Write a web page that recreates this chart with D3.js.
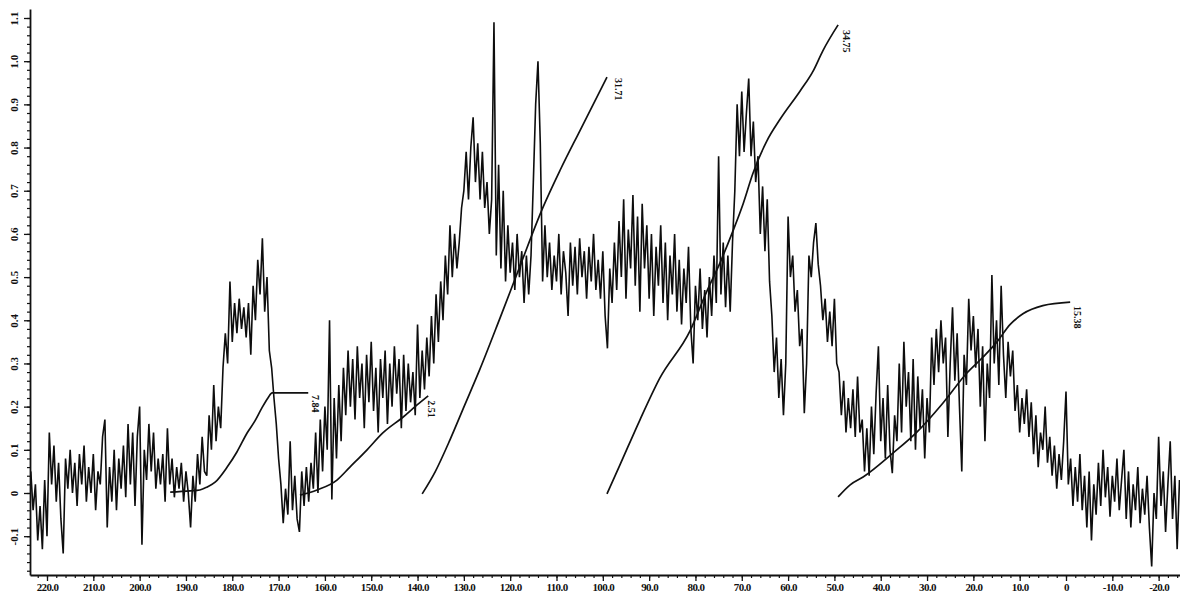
<!DOCTYPE html>
<html>
<head>
<meta charset="utf-8">
<script src="https://cdn.jsdelivr.net/npm/d3@7"></script>
<style>
  html, body { margin: 0; padding: 0; background: #fff; }
  svg { display: block; }
  .tick text, .lbl { font-family: "Liberation Serif", "Times New Roman", serif; font-weight: bold; fill: #111; }
</style>
</head>
<body>
<svg id="chart" width="1180" height="596"></svg>
<script>
// 13C spectrum sampled every 0.5 ppm, starting at 223.5 ppm and running upfield
const ppmStart = 223.5;
const ppmStep = 0.5;
const intensity = [
  // 223.5 – 214.0
  0.05, -0.04, 0.02, -0.11, -0.03, -0.13, 0.03, -0.10, 0.14, 0.02, 0.11, -0.02, 0.07, -0.06, -0.14, 0.08, 0.01, 0.10, 0.00, 0.07,
  // 213.5 – 204.0
  -0.03, 0.09, 0.02, 0.11, -0.02, 0.06, 0.00, 0.09, -0.04, 0.05, 0.02, 0.13, 0.17, -0.08, 0.06, -0.02, 0.10, -0.04, 0.08, 0.01,
  // 203.5 – 194.0
  0.11, -0.01, 0.16, 0.02, 0.14, -0.03, 0.13, 0.20, -0.12, 0.10, 0.03, 0.16, 0.05, 0.14, 0.01, 0.08, 0.02, 0.09, -0.02, 0.15,
  // 193.5 – 184.0
  0.02, 0.08, -0.01, 0.06, 0.01, 0.07, -0.02, 0.05, 0.00, -0.08, 0.04, -0.02, 0.09, 0.02, 0.13, 0.05, 0.04, 0.18, 0.10, 0.25,
  // 183.5 – 174.0
  0.12, 0.20, 0.15, 0.29, 0.37, 0.30, 0.49, 0.35, 0.44, 0.37, 0.45, 0.38, 0.43, 0.36, 0.44, 0.32, 0.48, 0.40, 0.54, 0.46,
  // 173.5 – 164.0
  0.59, 0.42, 0.50, 0.33, 0.29, 0.22, 0.16, 0.08, 0.02, -0.07, 0.01, -0.05, 0.12, -0.04, 0.04, -0.06, -0.09, 0.05, -0.03, 0.06,
  // 163.5 – 154.0
  -0.02, 0.07, 0.01, 0.14, 0.00, 0.17, 0.05, 0.20, 0.10, 0.40, -0.015, 0.22, 0.08, 0.25, 0.12, 0.29, 0.18, 0.33, 0.20, 0.31,
  // 153.5 – 144.0
  0.17, 0.34, 0.22, 0.30, 0.15, 0.32, 0.21, 0.35, 0.19, 0.29, 0.14, 0.31, 0.22, 0.33, 0.16, 0.30, 0.20, 0.34, 0.23, 0.31,
  // 143.5 – 134.0
  0.15, 0.32, 0.19, 0.30, 0.21, 0.28, 0.18, 0.39, 0.22, 0.33, 0.24, 0.36, 0.27, 0.41, 0.30, 0.46, 0.35, 0.49, 0.40, 0.55,
  // 133.5 – 124.0
  0.46, 0.62, 0.50, 0.60, 0.52, 0.58, 0.66, 0.70, 0.79, 0.68, 0.80, 0.87, 0.72, 0.81, 0.68, 0.79, 0.66, 0.72, 0.60, 0.68,
  // 123.5 – 114.0
  1.09, 0.55, 0.76, 0.52, 0.70, 0.49, 0.62, 0.51, 0.58, 0.47, 0.60, 0.50, 0.56, 0.44, 0.55, 0.46, 0.55, 0.72, 0.90, 1.00,
  // 113.5 – 104.0
  0.81, 0.49, 0.62, 0.50, 0.58, 0.47, 0.55, 0.49, 0.60, 0.46, 0.56, 0.51, 0.41, 0.58, 0.48, 0.57, 0.46, 0.59, 0.50, 0.56,
  // 103.5 – 94.0
  0.45, 0.57, 0.49, 0.60, 0.47, 0.54, 0.45, 0.56, 0.41, 0.335, 0.52, 0.44, 0.58, 0.47, 0.63, 0.50, 0.68, 0.45, 0.61, 0.52,
  // 93.5 – 84.0
  0.69, 0.48, 0.64, 0.42, 0.67, 0.52, 0.62, 0.45, 0.60, 0.41, 0.57, 0.48, 0.62, 0.44, 0.58, 0.40, 0.55, 0.46, 0.60, 0.42,
  // 83.5 – 74.0
  0.54, 0.39, 0.52, 0.44, 0.57, 0.38, 0.30, 0.48, 0.40, 0.52, 0.38, 0.47, 0.36, 0.50, 0.41, 0.55, 0.44, 0.78, 0.46, 0.58,
  // 73.5 – 64.0
  0.43, 0.55, 0.42, 0.58, 0.70, 0.90, 0.78, 0.93, 0.79, 0.88, 0.96, 0.78, 0.86, 0.72, 0.78, 0.60, 0.71, 0.56, 0.68, 0.49,
  // 63.5 – 54.0
  0.41, 0.28, 0.36, 0.22, 0.31, 0.18, 0.30, 0.64, 0.50, 0.55, 0.42, 0.47, 0.34, 0.38, 0.185, 0.30, 0.55, 0.50, 0.58, 0.625,
  // 53.5 – 44.0
  0.53, 0.48, 0.40, 0.45, 0.35, 0.42, 0.34, 0.45, 0.30, 0.28, 0.18, 0.26, 0.14, 0.22, 0.15, 0.24, 0.13, 0.27, 0.14, 0.17,
  // 43.5 – 34.0
  0.05, 0.15, 0.04, 0.20, 0.09, 0.23, 0.34, 0.12, 0.22, 0.08, 0.25, 0.10, 0.046, 0.18, 0.12, 0.30, 0.14, 0.35, 0.20, 0.28,
  // 33.5 – 24.0
  0.12, 0.31, 0.10, 0.27, 0.15, 0.24, 0.08, 0.22, 0.14, 0.36, 0.25, 0.38, 0.28, 0.40, 0.30, 0.36, 0.13, 0.30, 0.43, 0.26,
  // 23.5 – 14.0
  0.37, 0.20, 0.05, 0.32, 0.25, 0.45, 0.33, 0.41, 0.29, 0.38, 0.20, 0.34, 0.12, 0.30, 0.22, 0.505, 0.30, 0.40, 0.25, 0.48,
  // 13.5 – 4.0
  0.32, 0.22, 0.35, 0.27, 0.33, 0.19, 0.25, 0.14, 0.22, 0.16, 0.24, 0.13, 0.21, 0.09, 0.18, 0.06, 0.14, 0.10, 0.20, 0.07,
  // 3.5 – -6.0
  0.13, 0.04, 0.11, 0.01, 0.09, 0.03, 0.12, 0.235, 0.02, 0.08, -0.03, 0.06, -0.02, 0.09, -0.04, 0.04, -0.08, 0.05, -0.11, 0.02,
  // -6.5 – -16.0
  -0.05, 0.07, -0.03, 0.10, -0.01, 0.06, -0.055, 0.04, -0.02, 0.08, -0.04, 0.03, 0.10, -0.06, 0.05, -0.08, 0.02, -0.04, 0.06, -0.07,
  // -16.5 – -24.5
  0.01, -0.05, 0.04, -0.08, -0.17, 0.00, -0.06, 0.13, -0.03, 0.05, -0.09, 0.02, 0.12, -0.06, 0.04, -0.13, 0.03
];

// integral traces as [ppm, height] pairs
const integral1 = [[193.4, 0.002], [189.1, 0.005], [187.0, 0.007], [185.4, 0.014], [183.7, 0.025], [181.1, 0.060],
  [179.0, 0.095], [176.8, 0.139], [175.1, 0.167], [173.6, 0.197], [172.3, 0.220], [171.4, 0.232], [163.6, 0.232]];
const integral2 = [[165.4, -0.005], [161.7, 0.007], [157.4, 0.030], [154.6, 0.060], [150.9, 0.100], [147.5, 0.139],
  [143.1, 0.176], [140.1, 0.204], [137.7, 0.225]];
const integral3 = [[139.0, -0.002], [136.2, 0.049], [133.0, 0.123], [129.8, 0.204], [126.6, 0.285], [122.2, 0.405],
  [117.9, 0.525], [112.9, 0.662], [109.2, 0.748], [104.9, 0.840], [99.1, 0.963]];
const integral4 = [[99.1, -0.002], [96.3, 0.065], [92.0, 0.169], [87.7, 0.266], [81.2, 0.375], [77.5, 0.468],
  [74.7, 0.533], [71.9, 0.607], [69.7, 0.670], [67.6, 0.740], [64.6, 0.815], [61.7, 0.866], [57.4, 0.931],
  [54.6, 0.977], [52.5, 1.024], [49.2, 1.084]];
const integral5 = [[49.2, -0.009], [46.6, 0.019], [43.8, 0.037], [37.3, 0.093], [32.2, 0.141], [26.6, 0.208],
  [21.4, 0.278], [17.9, 0.315], [14.9, 0.350], [12.1, 0.390], [9.3, 0.415], [5.0, 0.434], [-0.9, 0.442]];
const integrals = [integral1, integral2, integral3, integral4, integral5];

// integral values and where they are written (ppm, height of the top of the text)
const integralLabels = ["7.84", "2.51", "31.71", "34.75", "15.38"];
const integralLabelPpm = [162.1, 136.9, 96.7, 47.3, -2.4];
const integralLabelTop = [0.227, 0.215, 0.961, 1.072, 0.433];

const xTickValues = [220, 210, 200, 190, 180, 170, 160, 150, 140, 130, 120, 110, 100, 90, 80, 70, 60, 50, 40, 30, 20, 10, 0, -10, -20];
const yTickValues = [-0.1, 0, 0.1, 0.2, 0.3, 0.4, 0.5, 0.6, 0.7, 0.8, 0.9, 1.0, 1.1];

const svg = d3.select("#chart");
const plotLeft = 30, plotRight = 1180, plotTop = 9, plotBottom = 575;

const x = d3.scaleLinear().domain([220, 0]).range([47, 1066]);
const y = d3.scaleLinear().domain([0, 1.1]).range([493, 18]);

// axis scales spanning the whole frame
const xa = x.copy().domain([x.invert(plotLeft), x.invert(plotRight)]).range([plotLeft, plotRight]);
const ya = y.copy().domain([y.invert(plotBottom), y.invert(plotTop)]).range([plotBottom, plotTop]);

svg.append("defs").append("clipPath").attr("id", "plot")
  .append("rect").attr("x", plotLeft + 1).attr("y", 0).attr("width", plotRight - plotLeft).attr("height", plotBottom - 1);

const spectrum = intensity.map((v, i) => [ppmStart - i * ppmStep, v]);

const specLine = d3.line().x(d => x(d[0])).y(d => y(d[1]));
svg.append("path")
  .attr("clip-path", "url(#plot)")
  .attr("d", specLine(spectrum))
  .attr("fill", "none")
  .attr("stroke", "#0d0d0d")
  .attr("stroke-width", 1.6)
  .attr("stroke-linejoin", "miter")
  .attr("stroke-miterlimit", 3);

const intLine = d3.line().x(d => x(d[0])).y(d => y(d[1])).curve(d3.curveMonotoneX);
svg.append("g").selectAll("path").data(integrals).join("path")
  .attr("d", intLine)
  .attr("fill", "none")
  .attr("stroke", "#111")
  .attr("stroke-width", 1.7);

svg.append("g").selectAll("text").data(integralLabels).join("text")
  .attr("class", "lbl")
  .attr("font-size", 10)
  .attr("transform", (d, i) => `translate(${x(integralLabelPpm[i])},${y(integralLabelTop[i])}) rotate(90)`)
  .attr("dy", "0.35em")
  .attr("text-anchor", "start")
  .text(d => d);

// x axis: minor ticks every 2 ppm, labelled major ticks every 10 ppm
const xMinor = d3.range(222, -25, -2);
svg.append("g").attr("transform", `translate(0,${plotBottom})`)
  .call(d3.axisBottom(xa).tickValues(xMinor).tickSize(3).tickFormat(""))
  .call(g => g.select(".domain").remove())
  .call(g => g.selectAll("line").attr("stroke", "#111").attr("stroke-width", 1.2));

const xAxis = svg.append("g").attr("transform", `translate(0,${plotBottom})`)
  .call(d3.axisBottom(xa).tickValues(xTickValues).tickSize(6).tickSizeOuter(0)
    .tickFormat(d => d === 0 ? "0" : d.toFixed(1)));
xAxis.select(".domain").attr("stroke", "#111").attr("stroke-width", 1.8);
xAxis.selectAll("line").attr("stroke", "#111").attr("stroke-width", 1.3);
xAxis.selectAll("text").attr("font-size", 11).attr("letter-spacing", "-0.6").attr("y", 8).attr("dy", "0.71em");

// y axis: minor ticks every 0.02, labelled major ticks every 0.1
const yMinor = d3.range(-18, 112, 2).map(v => v / 100);
svg.append("g").attr("transform", `translate(${plotLeft},0)`)
  .call(d3.axisLeft(ya).tickValues(yMinor).tickSize(3).tickFormat(""))
  .call(g => g.select(".domain").remove())
  .call(g => g.selectAll("line").attr("stroke", "#111").attr("stroke-width", 1.2));

const yAxis = svg.append("g").attr("transform", `translate(${plotLeft},0)`)
  .call(d3.axisLeft(ya).tickValues(yTickValues).tickSize(6).tickSizeOuter(0)
    .tickFormat(d => Math.abs(d) < 1e-9 ? "0" : d.toFixed(1)));
yAxis.select(".domain").attr("stroke", "#111").attr("stroke-width", 1.8);
yAxis.selectAll("line").attr("stroke", "#111").attr("stroke-width", 1.3);
yAxis.selectAll("text")
  .attr("font-size", 11)
  .attr("x", null).attr("dy", null)
  .attr("text-anchor", "middle")
  .attr("transform", "translate(-12,0) rotate(-90)");
</script>
</body>
</html>
